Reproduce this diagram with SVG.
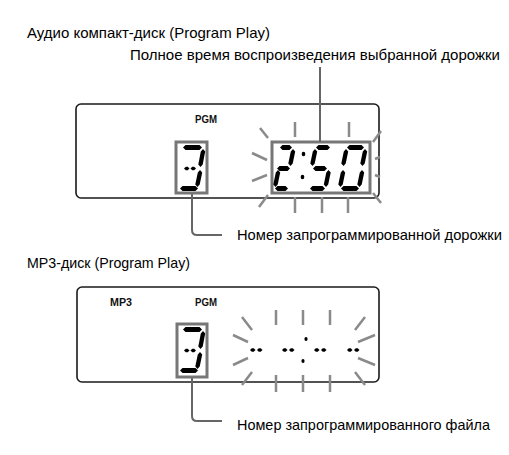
<svg xmlns="http://www.w3.org/2000/svg" xmlns:xlink="http://www.w3.org/1999/xlink" width="509" height="455" viewBox="0 0 509 455">
<style>
.t{font-family:"Liberation Sans",Arial,sans-serif;font-size:15px;fill:#000}
.lbl{font-family:"Liberation Sans",Arial,sans-serif;font-size:10.5px;font-weight:bold;fill:#111}
.frame{fill:#fff;stroke:#1a1a1a;stroke-width:1.6}
.dbox{fill:#fff;stroke:#777;stroke-width:3}
.ray{stroke:#8a8a8a;stroke-width:2.5;fill:none}
.conn{fill:none;stroke:#666;stroke-width:2}
.seg{fill:#000}
</style>
<defs>
<g id="dig3" class="seg">
<polygon points="183,147.5 185.5,145 199.5,145 202,147.5 199.5,150 185.5,150"/>
<polygon points="203,149 205.2,151.5 202.7,164.5 200.5,167 198.3,164.5 200.8,151.5"/>
<polygon points="184,168.5 185.8,166.7 187.7,166.7 189.5,168.5 187.7,170.3 185.8,170.3"/>
<polygon points="190.5,168.5 192.3,166.7 194.2,166.7 196,168.5 194.2,170.3 192.3,170.3"/>
<polygon points="200,170 202.2,172.5 199.7,184.5 197.5,187 195.3,184.5 197.8,172.5"/>
<polygon points="180,188.5 182.5,186 195.5,186 198,188.5 195.5,191 182.5,191"/>
</g>
<g id="dash2" class="seg">
<polygon points="0,0 1.8,-1.8 3.7,-1.8 5.5,0 3.7,1.8 1.8,1.8"/>
<polygon points="7,0 8.8,-1.8 10.7,-1.8 12.5,0 10.7,1.8 8.8,1.8"/>
</g>
</defs>
<rect width="509" height="455" fill="#fff"/>

<g id="title1"><text class="t" x="27" y="38" textLength="243" lengthAdjust="spacingAndGlyphs">Аудио компакт-диск (Program Play)</text></g>
<g id="label-time"><text class="t" x="130" y="60" textLength="370" lengthAdjust="spacingAndGlyphs">Полное время воспроизведения выбранной дорожки</text></g>

<g id="display1">
<rect class="frame" x="76" y="104" width="303" height="94" rx="5"/>
<text class="lbl" x="195" y="123" textLength="22" lengthAdjust="spacingAndGlyphs">PGM</text>
<g id="rays1">
<line class="ray" x1="295" y1="122" x2="295" y2="137"/>
<line class="ray" x1="349" y1="122" x2="349" y2="137"/>
<line class="ray" x1="295" y1="197" x2="295" y2="213"/>
<line class="ray" x1="322" y1="197" x2="322" y2="213"/>
<line class="ray" x1="348" y1="197" x2="348" y2="213"/>
<line class="ray" x1="260" y1="128" x2="268" y2="138"/>
<line class="ray" x1="252" y1="153" x2="267" y2="160"/>
<line class="ray" x1="252" y1="181" x2="267" y2="175"/>
<line class="ray" x1="259" y1="207" x2="268" y2="195"/>
<line class="ray" x1="381" y1="131" x2="373" y2="142"/>
<line class="ray" x1="380" y1="157" x2="375" y2="159"/>
<line class="ray" x1="380" y1="177" x2="375" y2="175"/>
<line class="ray" x1="381" y1="203" x2="373" y2="193"/>
</g>
<rect class="dbox" x="176" y="142" width="31" height="51"/>
<use xlink:href="#dig3"/>
<rect class="dbox" x="272" y="142" width="98" height="51"/>
<g class="seg">
<polygon points="280,147.5 282.5,145 289.5,145 292,147.5 289.5,150 282.5,150"/>
<polygon points="293,149 295.2,151.5 292.7,163.5 290.5,166 288.3,163.5 290.8,151.5"/>
<polygon points="277,168.5 279.5,166 287.5,166 290,168.5 287.5,171 279.5,171"/>
<polygon points="278,170 280.2,172.5 277.7,184.5 275.5,187 273.3,184.5 275.8,172.5"/>
<polygon points="275,188.5 277.5,186 285.5,186 288,188.5 285.5,191 277.5,191"/>
<ellipse cx="303.5" cy="154" rx="1.8" ry="2.2"/>
<ellipse cx="302.5" cy="177" rx="1.8" ry="2.2"/>
<polygon points="316,147.5 318.5,145 327.5,145 330,147.5 327.5,150 318.5,150"/>
<polygon points="315,149 317.2,151.5 314.7,163.5 312.5,166 310.3,163.5 312.8,151.5"/>
<polygon points="313,168.5 315.5,166 324.5,166 327,168.5 324.5,171 315.5,171"/>
<polygon points="328.5,170 330.7,172.5 328.2,184.5 326,187 323.8,184.5 326.3,172.5"/>
<polygon points="310,188.5 312.5,186 322.5,186 325,188.5 322.5,191 312.5,191"/>
<polygon points="347,147.5 349.5,145 361.5,145 364,147.5 361.5,150 349.5,150"/>
<polygon points="346,149 348.2,151.5 345.7,163.5 343.5,166 341.3,163.5 343.8,151.5"/>
<polygon points="365,149 367.2,151.5 364.7,163.5 362.5,166 360.3,163.5 362.8,151.5"/>
<polygon points="343,170 345.2,172.5 342.7,184.5 340.5,187 338.3,184.5 340.8,172.5"/>
<polygon points="362,170 364.2,172.5 361.7,184.5 359.5,187 357.3,184.5 359.8,172.5"/>
<polygon points="341,188.5 343.5,186 356.5,186 359,188.5 356.5,191 343.5,191"/>
</g>
</g>

<g id="label-track"><text class="t" x="237" y="240" textLength="265" lengthAdjust="spacingAndGlyphs">Номер запрограммированной дорожки</text></g>
<g id="title2"><text class="t" x="27" y="268" textLength="163" lengthAdjust="spacingAndGlyphs">MP3-диск (Program Play)</text></g>

<g id="display2">
<rect class="frame" x="77" y="287" width="302" height="95" rx="5"/>
<text class="lbl" x="110" y="306" textLength="22" lengthAdjust="spacingAndGlyphs">MP3</text>
<text class="lbl" x="195" y="306" textLength="22" lengthAdjust="spacingAndGlyphs">PGM</text>
<rect class="dbox" x="177" y="324" width="30" height="53"/>
<use xlink:href="#dig3" transform="translate(0,182)"/>
<g id="rays2">
<line class="ray" x1="276" y1="310" x2="276" y2="325"/>
<line class="ray" x1="303" y1="310" x2="303" y2="325"/>
<line class="ray" x1="330" y1="310" x2="330" y2="325"/>
<line class="ray" x1="276" y1="375" x2="276" y2="392"/>
<line class="ray" x1="303" y1="375" x2="303" y2="392"/>
<line class="ray" x1="330" y1="375" x2="330" y2="392"/>
<line class="ray" x1="242" y1="317" x2="252" y2="330"/>
<line class="ray" x1="233" y1="335" x2="248" y2="342"/>
<line class="ray" x1="233" y1="365" x2="248" y2="358"/>
<line class="ray" x1="242" y1="385" x2="252" y2="372"/>
<line class="ray" x1="365" y1="317" x2="355" y2="330"/>
<line class="ray" x1="375" y1="335" x2="358" y2="342"/>
<line class="ray" x1="375" y1="365" x2="358" y2="358"/>
<line class="ray" x1="365" y1="385" x2="355" y2="372"/>
</g>
<use xlink:href="#dash2" transform="translate(250,350)"/>
<use xlink:href="#dash2" transform="translate(282,350)"/>
<use xlink:href="#dash2" transform="translate(314,350)"/>
<use xlink:href="#dash2" transform="translate(347,350)"/>
<ellipse class="seg" cx="306" cy="339" rx="1.6" ry="2"/>
<ellipse class="seg" cx="303" cy="361" rx="1.6" ry="2"/>
</g>

<g id="label-file"><text class="t" x="237" y="430" textLength="253" lengthAdjust="spacingAndGlyphs">Номер запрограммированного файла</text></g>

<g id="connectors">
<line class="conn" x1="320" y1="67" x2="320" y2="142"/>
<path class="conn" d="M192,194 V230 Q192,235 197,235 H222"/>
<path class="conn" d="M192,378 V416 Q192,421 197,421 H222"/>
</g>
</svg>
